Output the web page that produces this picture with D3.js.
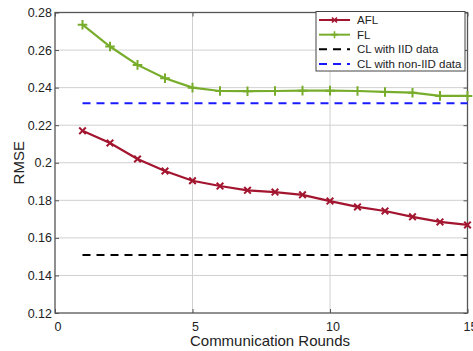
<!doctype html>
<html lang="en">
<head>
  <meta charset="utf-8">
  <title>RMSE vs communication rounds</title>
  <style>
    body { margin: 0; background: #fff; }
    text { font-family: "Liberation Sans", Arial, sans-serif; fill: #222; }
    .grid line { stroke: #d0d0d0; stroke-width: 1; }
  </style>
</head>
<body>
  <div id="chart"></div>
  <script src="https://cdn.jsdelivr.net/npm/d3@7"></script>
  <script>
  (function(){

    var rounds = [1, 2, 3, 4, 5, 6, 7, 8, 9, 10, 11, 12, 13, 14, 15];
    var aflValues = [0.2170, 0.2105, 0.2020, 0.1956, 0.1904, 0.1876, 0.1853, 0.1844, 0.1829, 0.1796, 0.1765, 0.1743, 0.1712, 0.1685, 0.1669];
    var flValues = [0.2735, 0.2619, 0.2521, 0.2450, 0.2400, 0.2382, 0.2381, 0.2382, 0.2384, 0.2384, 0.2382, 0.2377, 0.2373, 0.2356, 0.2356];
    var clIid = 0.1509;
    var clNonIid = 0.2317;
    var xTicks = [0, 5, 10, 15];
    var yTicks = [0.12, 0.14, 0.16, 0.18, 0.2, 0.22, 0.24, 0.26, 0.28];
    var legendLabels = ["AFL", "FL", "CL with IID data", "CL with non-IID data"];

    var width = 473, height = 351;
    var margin = {left: 55, right: 5.5, top: 12.5, bottom: 38};

    var svg = d3.select("#chart").append("svg")
        .attr("width", width)
        .attr("height", height);

    var x = d3.scaleLinear().domain([0, 15]).range([margin.left, width - margin.right]);
    var y = d3.scaleLinear().domain([0.12, 0.28]).range([height - margin.bottom, margin.top]);

    // grid
    var grid = svg.append("g").attr("class", "grid");
    grid.selectAll(".gy").data(yTicks.slice(1, -1)).enter().append("line")
      .attr("x1", x(0)).attr("x2", x(15))
      .attr("y1", function(d){ return y(d); }).attr("y2", function(d){ return y(d); });
    grid.selectAll(".gx").data(xTicks.slice(1, -1)).enter().append("line")
      .attr("y1", y(0.12)).attr("y2", y(0.28))
      .attr("x1", function(d){ return x(d); }).attr("x2", function(d){ return x(d); });

    // axes, ticks pointing inwards
    var fmtY = function(d){ return d3.format(".2f")(d).replace(/0$/, ""); };
    var axisStyle = function(g){
      g.select(".domain").remove();
      g.selectAll(".tick line").attr("stroke", "#555");
      g.selectAll(".tick text").attr("font-size", 12.5).attr("fill", "#222")
        .style("font-family", "'Liberation Sans', Arial, sans-serif");
    };
    svg.append("g").attr("transform", "translate(" + x(0) + ",0)")
      .call(d3.axisLeft(y).tickValues(yTicks).tickFormat(fmtY).tickSize(-4).tickPadding(3))
      .call(axisStyle);
    svg.append("g").attr("transform", "translate(" + x(15) + ",0)")
      .call(d3.axisRight(y).tickValues(yTicks).tickFormat("").tickSize(-4))
      .call(axisStyle);
    svg.append("g").attr("transform", "translate(0," + y(0.12) + ")")
      .call(d3.axisBottom(x).tickValues(xTicks).tickFormat(d3.format("d")).tickSize(-4).tickPadding(9))
      .call(axisStyle)
      .selectAll(".tick text").attr("dx", 2.5);
    svg.append("g").attr("transform", "translate(0," + y(0.28) + ")")
      .call(d3.axisTop(x).tickValues(xTicks).tickFormat("").tickSize(-4))
      .call(axisStyle);

    svg.append("rect")
      .attr("x", x(0)).attr("y", y(0.28))
      .attr("width", x(15) - x(0)).attr("height", y(0.12) - y(0.28))
      .attr("fill", "none").attr("stroke", "#555").attr("stroke-width", 1.3);

    // reference lines
    var refLines = [
      {v: clIid, color: "#000"},
      {v: clNonIid, color: "#1a1aff"}
    ];
    svg.selectAll(".ref").data(refLines).enter().append("line")
      .attr("x1", x(1)).attr("x2", x(15))
      .attr("y1", function(d){ return y(d.v); }).attr("y2", function(d){ return y(d.v); })
      .attr("stroke", function(d){ return d.color; })
      .attr("stroke-width", 2)
      .attr("stroke-dasharray", "8,6");

    // series
    var series = [
      {values: aflValues, color: "#a3152f", marker: "x"},
      {values: flValues, color: "#78ad2b", marker: "+"}
    ];
    var line = d3.line()
      .x(function(d, i){ return x(rounds[i]); })
      .y(function(d){ return y(d); });

    function markerPath(type, s){
      if (type === "x") return "M" + (-s) + "," + (-s) + "L" + s + "," + s + "M" + (-s) + "," + s + "L" + s + "," + (-s);
      return "M" + (-s) + ",0L" + s + ",0M0," + (-s) + "L0," + s;
    }

    series.forEach(function(s){
      svg.append("path").datum(s.values)
        .attr("d", line)
        .attr("fill", "none")
        .attr("stroke", s.color)
        .attr("stroke-width", 2.2);
      svg.append("g").selectAll("path").data(s.values).enter().append("path")
        .attr("transform", function(d, i){ return "translate(" + x(rounds[i]) + "," + y(d) + ")"; })
        .attr("d", markerPath(s.marker, s.marker === "x" ? 3.3 : 4.8))
        .attr("stroke", s.color)
        .attr("stroke-width", 2)
        .attr("fill", "none");
    });

    // axis labels
    svg.append("text")
      .attr("x", 270).attr("y", 346)
      .attr("text-anchor", "middle")
      .attr("font-size", 15)
      .text("Communication Rounds");
    svg.append("text")
      .attr("transform", "translate(24," + ((y(0.12) + y(0.28)) / 2) + ") rotate(-90)")
      .attr("text-anchor", "middle")
      .attr("font-size", 15)
      .text("RMSE");

    // legend
    var legend = svg.append("g").attr("transform", "translate(316,11.5)");
    legend.append("rect")
      .attr("width", 149).attr("height", 59.5)
      .attr("fill", "#fff").attr("stroke", "#444").attr("stroke-width", 1);
    var legendItems = [
      {label: legendLabels[0], color: "#a3152f", marker: "x", dash: null},
      {label: legendLabels[1], color: "#78ad2b", marker: "+", dash: null},
      {label: legendLabels[2], color: "#000", marker: null, dash: "8,6"},
      {label: legendLabels[3], color: "#1a1aff", marker: null, dash: "8,6"}
    ];
    var rowY = d3.scalePoint().domain(d3.range(4)).range([8.5, 52.5]);
    var items = legend.selectAll(".item").data(legendItems).enter().append("g")
      .attr("transform", function(d, i){ return "translate(0," + rowY(i) + ")"; });
    items.append("line")
      .attr("x1", 3).attr("x2", 34)
      .attr("stroke", function(d){ return d.color; })
      .attr("stroke-width", 2)
      .attr("stroke-dasharray", function(d){ return d.dash; });
    items.filter(function(d){ return d.marker; }).append("path")
      .attr("transform", "translate(18.5,0)")
      .attr("d", function(d){ return markerPath(d.marker, d.marker === "x" ? 2.5 : 3.5); })
      .attr("stroke", function(d){ return d.color; })
      .attr("stroke-width", 1.6);
    items.append("text")
      .attr("x", 41).attr("dy", "0.36em")
      .attr("font-size", 11.5)
      .text(function(d){ return d.label; });

  })();
  </script>
</body>
</html>
